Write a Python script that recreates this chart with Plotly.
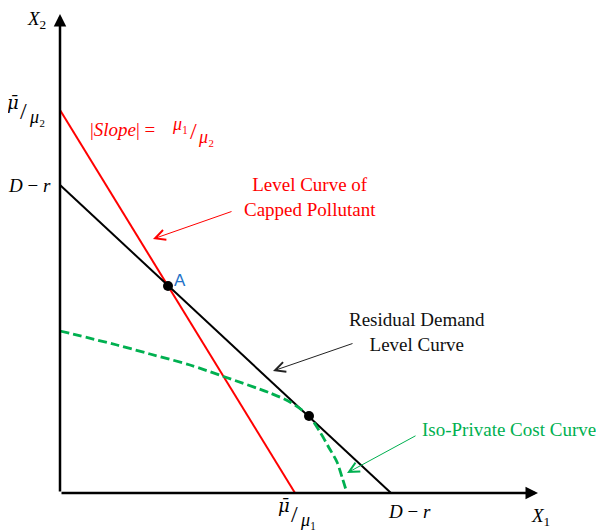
import plotly.graph_objects as go

# ---- data (pixel-like units; origin at axes intersection) ----
red_x = [0, 235]
red_y = [383, 0]
black_x = [0, 331]
black_y = [308, 0]
green_x = [0, 57, 90, 130, 165, 210, 230, 249, 260, 268, 277, 282, 287]
green_y = [162, 148, 139, 128, 116, 100, 91, 77, 61, 47, 31, 16, 0]
dots_x = [108, 249]
dots_y = [207, 77]
x_axis_end = 478
y_axis_end = 479

RED = "#FF0000"
GREEN = "#00B050"
BLUE = "#2472C8"
SERIF = "Liberation Serif"

fig = go.Figure()
fig.add_trace(go.Scatter(x=red_x, y=red_y, mode="lines",
                         line=dict(color=RED, width=2), hoverinfo="skip"))
fig.add_trace(go.Scatter(x=black_x, y=black_y, mode="lines",
                         line=dict(color="black", width=2), hoverinfo="skip"))
fig.add_trace(go.Scatter(x=green_x, y=green_y, mode="lines",
                         line=dict(color=GREEN, width=2.8, dash="9px,4px",
                                   shape="spline", smoothing=0.8),
                         hoverinfo="skip"))
fig.add_trace(go.Scatter(x=dots_x, y=dots_y, mode="markers",
                         marker=dict(color="black", size=10), hoverinfo="skip"))

ann = []
# axes with arrowheads
for hx, hy in [(x_axis_end, 0), (0, y_axis_end)]:
    ann.append(dict(x=hx, y=hy, ax=0, ay=0, xref="x", yref="y", axref="x", ayref="y",
                    showarrow=True, arrowhead=2, arrowsize=1.0, arrowwidth=2.5,
                    arrowcolor="black", text=""))


def pointer(hx, hy, tx, ty, color):
    return dict(x=hx, y=hy, ax=tx, ay=ty, xref="x", yref="y", axref="x", ayref="y",
                showarrow=True, arrowhead=5, arrowsize=2, arrowwidth=1,
                arrowcolor=color, text="")


ann.append(pointer(93, 254, 173, 282, RED))
ann.append(pointer(213, 122, 294, 150, "#222222"))
ann.append(pointer(287, 20, 357, 58, GREEN))


def label(x, y, text, color="black", size=19, family=SERIF, xanchor="center"):
    return dict(x=x, y=y, xref="x", yref="y", text=text, showarrow=False,
                xanchor=xanchor, yanchor="middle",
                font=dict(color=color, size=size, family=family))


def frac(num_xy, slash_xy, den_xy, num, den, color="black", size=19, num_family=SERIF):
    return [label(num_xy[0], num_xy[1], num, color, size, family=num_family),
            label(slash_xy[0], slash_xy[1], "/", color, size + 6),
            label(den_xy[0], den_xy[1], den, color, size)]


ann.append(label(250, 296, "Level Curve of<br>Capped Pollutant", RED))
ann.append(label(357, 161, "Residual Demand<br>Level Curve", "#111111"))
ann.append(label(538, 64, "Iso-Private Cost Curve", GREEN, xanchor="right"))
ann.append(label(120, 213, "A", BLUE, size=17, family="Liberation Sans"))

# |Slope| = mu1/mu2
ann.append(label(28, 364, "|<i>Slope</i>| =", RED, size=19, xanchor="left"))
ann += frac((120, 369), (133, 362), (146, 356), "<i>μ</i>₁", "<i>μ</i>₂", RED, 18)

# axis labels / tick labels
ann.append(label(-24, 473, "<i>X</i><sub>2</sub>", size=19))
ann.append(label(480, -24, "<i>X</i><sub>1</sub>", size=19))
ann += frac((-47, 391), (-37, 382), (-23, 376), "<i>μ̄</i>", "<i>μ</i>₂", "black", 18,
            num_family="DejaVu Serif")
ann.append(label(-7, 308, "<i>D</i> − <i>r</i>", size=19, xanchor="right"))
ann += frac((224, -12), (234, -21), (248, -27), "<i>μ̄</i>", "<i>μ</i>₁", "black", 18,
            num_family="DejaVu Serif")
ann.append(label(349, -18, "<i>D</i> − <i>r</i>", size=19))

# page body has an 8px margin: figure is shifted by 8px, ranges compensate
fig.update_layout(
    width=596, height=523,
    margin=dict(l=0, r=0, t=0, b=0),
    plot_bgcolor="white", paper_bgcolor="white",
    showlegend=False,
    xaxis=dict(range=[-52, 544], visible=False, fixedrange=True),
    yaxis=dict(range=[-38, 485], visible=False, fixedrange=True),
    annotations=ann,
)

fig.write_html("out.html")
